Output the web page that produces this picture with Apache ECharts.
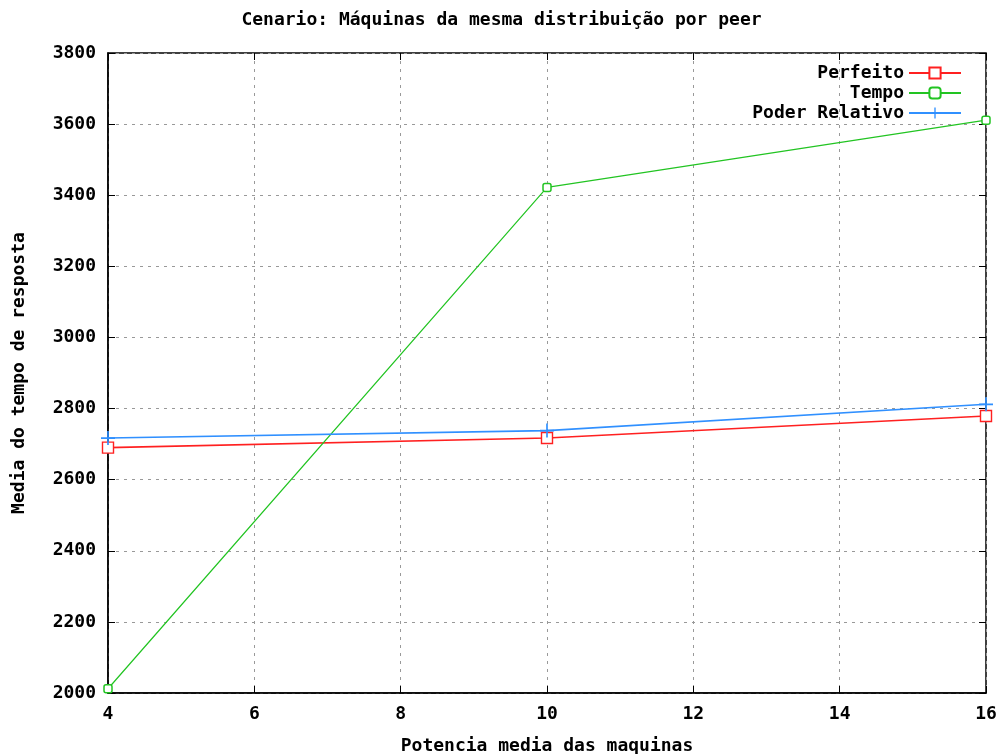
<!DOCTYPE html>
<html><head><meta charset="utf-8">
<script src="https://cdn.jsdelivr.net/npm/echarts@6/dist/echarts.min.js"></script>
<style>html,body{margin:0;padding:0;background:#fff}#c{width:1003px;height:754px}</style>
</head><body><div id="c"></div>
<script>
const xValues = [4, 10, 16];
const perfeito = [2690, 2717, 2779];
const tempo = [2012, 3422, 3611];
const poderRelativo = [2717, 2738, 2812];
const seriesNames = ['Perfeito', 'Tempo', 'Poder Relativo'];
const titleText = 'Cenario: Máquinas da mesma distribuição por peer';
const xName = 'Potencia media das maquinas';
const yName = 'Media do tempo de resposta';

const font = 'DejaVu Sans Mono';
const FS = 18;
const pairs = arr => xValues.map((x, i) => [x, arr[i]]);
const plusPath = 'path://M4.4,0H5.6V4.4H10V5.6H5.6V10H4.4V5.6H0V4.4H4.4Z';

const chart = echarts.init(document.getElementById('c'), null, {renderer: 'canvas'});
const gridLine = {show: true, lineStyle: {color: '#999', type: [3, 5], width: 1}};
const txt = {fontFamily: font, fontWeight: 'bold', fontSize: FS, color: '#000'};
chart.setOption({
  animation: false,
  backgroundColor: '#fff',
  title: {text: titleText, left: 'center', top: 6, textStyle: txt},
  grid: {left: 108, right: 17, top: 53, bottom: 61, show: true, borderColor: '#000', borderWidth: 1.5,
         containLabel: false, outerBoundsMode: 'none'},
  legend: {
    orient: 'vertical', right: 36, top: 59, align: 'right', itemGap: 2,
    itemWidth: 52, itemHeight: 14,
    textStyle: txt,
    data: seriesNames
  },
  xAxis: [{
    type: 'value', min: 4, max: 16, interval: 2,
    name: xName, nameLocation: 'middle', nameGap: 44,
    nameTextStyle: txt,
    axisLine: {show: true, lineStyle: {color: '#000', width: 1.5}},
    axisTick: {show: true, inside: true, length: 7, lineStyle: {color: '#000'}},
    axisLabel: Object.assign({margin: 12, formatter: v => String(v)}, txt),
    splitLine: gridLine
  }, {
    type: 'value', min: 4, max: 16, interval: 2, position: 'top',
    axisLine: {show: false}, axisLabel: {show: false}, splitLine: {show: false},
    axisTick: {show: true, inside: true, length: 7, lineStyle: {color: '#000'}}
  }],
  yAxis: [{
    type: 'value', min: 2000, max: 3800, interval: 200,
    name: yName, nameLocation: 'middle', nameGap: 80, nameRotate: 90,
    nameTextStyle: txt,
    axisLine: {show: true, lineStyle: {color: '#000', width: 1.5}},
    axisTick: {show: true, inside: true, length: 7, lineStyle: {color: '#000'}},
    axisLabel: Object.assign({margin: 12, formatter: v => String(v)}, txt),
    splitLine: gridLine
  }, {
    type: 'value', min: 2000, max: 3800, interval: 200, position: 'right',
    axisLine: {show: false}, axisLabel: {show: false}, splitLine: {show: false},
    axisTick: {show: true, inside: true, length: 7, lineStyle: {color: '#000'}}
  }],
  series: [{
    name: seriesNames[0], type: 'line', data: pairs(perfeito),
    symbol: 'rect', symbolSize: 11, showAllSymbol: true,
    lineStyle: {color: '#ff2020', width: 1.6},
    itemStyle: {color: '#fff', borderColor: '#ff2020', borderWidth: 1.4}
  }, {
    name: seriesNames[1], type: 'line', data: pairs(tempo),
    symbol: 'roundRect', symbolSize: 8, showAllSymbol: true,
    lineStyle: {color: '#22c422', width: 1.2},
    itemStyle: {color: '#fff', borderColor: '#22c422', borderWidth: 1.5}
  }, {
    name: seriesNames[2], type: 'line', data: pairs(poderRelativo),
    symbol: plusPath, symbolSize: 14, showAllSymbol: true,
    lineStyle: {color: '#3090ff', width: 1.6},
    itemStyle: {color: '#3090ff'}
  }]
});
</script></body></html>
